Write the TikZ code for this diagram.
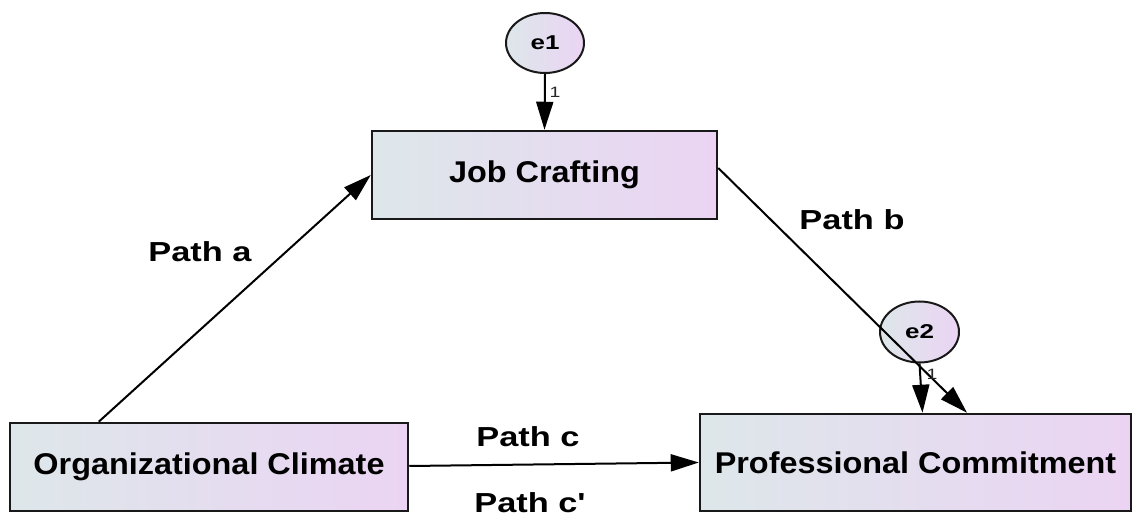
\documentclass[tikz,border=0pt]{standalone}
\usepackage{fontspec}
\setmainfont{Liberation Sans}[Ligatures=TeXOff]
\usepackage{graphicx}
\usetikzlibrary{arrows.meta,shapes.geometric}
\definecolor{lcol}{HTML}{DDE7EA}
\definecolor{rcol}{HTML}{EBD4F3}
\newcommand{\hs}[2]{\scalebox{#1}[1]{#2}}
\tikzset{
  varbox/.style={draw=black!90, line width=2.5pt, left color=lcol, right color=rcol,
    rectangle, inner sep=0pt, font=\fontsize{30}{36}\selectfont\bfseries},
  errnode/.style={draw=black!90, line width=2pt, left color=lcol, right color=rcol,
    ellipse, inner sep=0pt, font=\fontsize{20}{24}\selectfont\bfseries},
  arr/.style={line width=2pt, -{Triangle[length=28pt,width=17pt]}},
  pathlbl/.style={font=\fontsize{27.5}{32}\selectfont\bfseries, inner sep=0pt},
  onelbl/.style={font=\fontsize{15}{18}\selectfont, inner sep=0pt, text=black!85}
}
\begin{document}
\begin{tikzpicture}[x=1pt,y=-1pt]
\useasboundingbox (0,0) rectangle (1132,518);
\node[varbox, minimum width=345pt, minimum height=88pt] (job) at (544.5,175) {\hs{1.08}{Job Crafting}};
\node[varbox, minimum width=398pt, minimum height=88pt] (org) at (209,467) {\hs{1.08}{Organizational Climate}};
\node[varbox, minimum width=431pt, minimum height=97pt] (prof) at (915.5,462.5) {\hs{1.08}{Professional Commitment}};
\node[errnode, minimum width=78pt, minimum height=60pt] (e1) at (545,43) {\hs{1.3}{e1}};
\node[errnode, minimum width=79pt, minimum height=61pt] (e2) at (919.5,332) {\hs{1.3}{e2}};

\draw[arr] (e1.south) -- (job.north);
\draw[arr] (e2.south) -- ([xshift=7pt]prof.north);
\draw[arr] ([xshift=90pt]org.north west) -- (job.west);
\draw[arr] ([yshift=7pt]job.east) -- ([xshift=51.5pt]prof.north);
\draw[arr] ([yshift=1pt]org.east) -- (prof.west);

\node[onelbl] (one1) at (555,92) {\hs{1.3}{1}};
\node[onelbl] (one2) at (932,374) {\hs{1.3}{1}};
\node[pathlbl] (pa) at (200,252) {\hs{1.25}{Path a}};
\node[pathlbl] (pb) at (852,220) {\hs{1.25}{Path b}};
\node[pathlbl] (pc) at (528,437) {\hs{1.25}{Path c}};
\node[pathlbl] (pcp) at (530,503) {\hs{1.25}{Path c'}};
\end{tikzpicture}
\end{document}
